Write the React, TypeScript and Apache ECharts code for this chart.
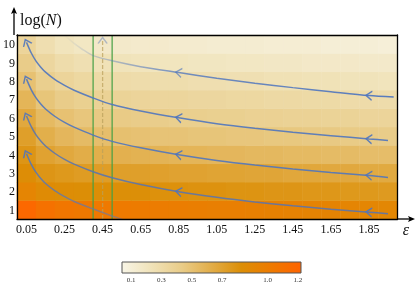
import React, { useEffect, useRef } from "react";
import * as echarts from "echarts";

// ---------- data ----------
const xCategories = ["0.05","0.15","0.25","0.35","0.45","0.55","0.65","0.75","0.85","0.95","1.05","1.15","1.25","1.35","1.45","1.55","1.65","1.75","1.85","1.95"];
const yCategories = ["1","2","3","4","5","6","7","8","9","10"];

const heatRow1 = [1.18,1.10,1.06,1.04,1.03,1.02,1.01,1.00,0.99,0.98,0.97,0.97,0.96,0.95,0.94,0.93,0.93,0.92,0.91,0.90];
const heatRow2 = [0.92,0.86,0.84,0.83,0.83,0.82,0.82,0.81,0.81,0.80,0.80,0.79,0.79,0.78,0.78,0.77,0.77,0.76,0.76,0.75];
const heatRow3 = [0.84,0.78,0.76,0.74,0.73,0.72,0.72,0.71,0.70,0.70,0.69,0.69,0.68,0.68,0.67,0.67,0.66,0.66,0.65,0.65];
const heatRow4 = [0.78,0.70,0.66,0.63,0.62,0.61,0.60,0.59,0.58,0.58,0.57,0.57,0.56,0.56,0.55,0.55,0.54,0.54,0.53,0.53];
const heatRow5 = [0.72,0.62,0.57,0.54,0.52,0.51,0.50,0.49,0.49,0.48,0.48,0.47,0.47,0.46,0.46,0.45,0.45,0.44,0.44,0.43];
const heatRow6 = [0.66,0.55,0.50,0.47,0.45,0.44,0.43,0.42,0.41,0.41,0.40,0.40,0.39,0.39,0.38,0.38,0.37,0.37,0.36,0.36];
const heatRow7 = [0.58,0.48,0.43,0.40,0.38,0.37,0.36,0.35,0.35,0.34,0.34,0.33,0.33,0.32,0.32,0.31,0.31,0.30,0.30,0.29];
const heatRow8 = [0.50,0.41,0.36,0.33,0.31,0.30,0.29,0.28,0.28,0.27,0.27,0.26,0.26,0.25,0.25,0.24,0.24,0.23,0.23,0.22];
const heatRow9 = [0.43,0.34,0.29,0.26,0.24,0.23,0.22,0.21,0.21,0.20,0.20,0.19,0.19,0.18,0.18,0.17,0.17,0.17,0.16,0.16];
const heatRow10 = [0.36,0.27,0.22,0.19,0.17,0.16,0.15,0.15,0.14,0.14,0.13,0.13,0.13,0.12,0.12,0.12,0.11,0.11,0.11,0.10];
const heatRows = [heatRow1,heatRow2,heatRow3,heatRow4,heatRow5,heatRow6,heatRow7,heatRow8,heatRow9,heatRow10];

const colorMin = 0.04;
const colorMax = 1.22;
const colorbarTicks = [0.1, 0.3, 0.5, 0.7, 1.0, 1.2];

// flow lines (epsilon, log N)
const curveX = [0.05,0.075,0.1,0.125,0.15,0.2,0.25,0.3,0.4,0.5,0.65,0.85,1.05,1.25,1.45,1.65,1.85,1.95];
const curveB = [10.1,9.52,9.08,8.75,8.48,8.07,7.76,7.5,7.08,6.72,6.37,6.0,5.68,5.43,5.22,5.03,4.85,4.77];
const curveC = [8.1,7.52,7.08,6.75,6.48,6.07,5.75,5.49,5.06,4.72,4.37,3.99,3.68,3.43,3.22,3.03,2.87,2.76];
const curveD = [6.1,5.52,5.07,4.74,4.47,4.06,3.74,3.48,3.07,2.74,2.37,1.98,1.68,1.43,1.22,1.03,0.87,0.79];
const curveEX = [0.05,0.075,0.1,0.125,0.15,0.2,0.25,0.3,0.4,0.5,0.56];
const curveEY = [4.05,3.47,3.03,2.7,2.43,2.03,1.72,1.45,1.05,0.66,0.45];
const topX = [0.24,0.27,0.3,0.35,0.4,0.5,0.65,0.85,1.05,1.25,1.45,1.65,1.85,1.98];
const topY = [10.55,10.3,10.05,9.68,9.38,9.1,8.78,8.46,8.15,7.88,7.64,7.42,7.21,7.13];

const bandX = [0.40, 0.50];
const dashX = 0.45;
const dashYTop = 10.2;

// ---------- style ----------
const SERIF = "'Liberation Serif', 'DejaVu Serif', serif";
const BLUE = "rgba(80,118,190,0.9)";
const GREEN = "#45a045";
const CMAP = ["#f8f5e6", "#f0e2b8", "#e9cc88", "#e2ad48", "#dc8e06", "#ee7a00", "#ff6400"];
const CHEVRON = "path://M8,0 L0,5 L8,10";
const PXU = 192; // px per epsilon unit
const PYU = 18.4; // px per log N unit

function arrowRotation(xs: number[], ys: number[], i: number) {
  const a = Math.max(i - 1, 0);
  const b = Math.min(i + 1, xs.length - 1);
  const dx = (xs[a] - xs[b]) * PXU;
  const dy = (ys[a] - ys[b]) * PYU;
  return (Math.atan2(dy, dx) * 180) / Math.PI - 180;
}

function curveData(xs: number[], ys: number[], arrowIdx: number[], arrowColor?: (i: number) => string) {
  return xs.map((x, i) => {
    if (arrowIdx.indexOf(i) >= 0) {
      return {
        value: [x, ys[i]],
        symbol: CHEVRON,
        symbolSize: [6, 9],
        symbolRotate: arrowRotation(xs, ys, i),
        itemStyle: { color: "rgba(0,0,0,0)", borderColor: arrowColor ? arrowColor(i) : BLUE, borderWidth: 1.3 },
      };
    }
    return { value: [x, ys[i]], symbol: "none" };
  });
}

function lineSeries(data: any[], color: any, extra: any = {}) {
  return {
    type: "line",
    xAxisIndex: 1,
    yAxisIndex: 1,
    data,
    smooth: 0.3,
    showSymbol: true,
    symbol: "none",
    lineStyle: { color, width: 1.5 },
    itemStyle: { color: "rgba(0,0,0,0)" },
    silent: true,
    z: 5,
    ...extra,
  };
}

function vLine(x: number, y0: number, y1: number, color: string) {
  return {
    type: "line",
    xAxisIndex: 1,
    yAxisIndex: 1,
    data: [[x, y0], [x, y1]],
    symbol: "none",
    showSymbol: false,
    lineStyle: { color, width: 1.2 },
    silent: true,
    z: 4,
  };
}

export default function App() {
  const ref = useRef<HTMLDivElement>(null);
  useEffect(() => {
    if (!ref.current) return;
    const chart = echarts.init(ref.current, null, { renderer: "svg" });

    const heatData: number[][] = [];
    heatRows.forEach((row, yi) => row.forEach((v, xi) => heatData.push([xi, yi, v])));

    const barX = 122, barY = 262, barW = 179, barH = 11;
    const stops = CMAP.map((c, i) => ({ offset: i / (CMAP.length - 1), color: c }));

    const topGradient = new echarts.graphic.LinearGradient(0, 0, 1, 0, [
      { offset: 0, color: "rgba(80,118,190,0)" },
      { offset: 0.12, color: "rgba(80,118,190,0.35)" },
      { offset: 0.38, color: "rgba(80,118,190,0.8)" },
      { offset: 1, color: "rgba(80,118,190,0.95)" },
    ]);
    const eGradient = new echarts.graphic.LinearGradient(0, 0, 1, 0, [
      { offset: 0, color: "rgba(80,118,190,0.9)" },
      { offset: 1, color: "rgba(110,120,160,0.55)" },
    ]);

    const option: any = {
      animation: false,
      grid: { left: 14, right: 17.5, top: 35, bottom: 66 },
      xAxis: [
        {
          type: "category",
          data: xCategories,
          position: "bottom",
          z: 10,
          axisLine: { lineStyle: { color: "#000", width: 1.3 } },
          axisTick: { alignWithLabel: true, interval: 0, length: 3, lineStyle: { color: "#333" } },
          axisLabel: { interval: 1, fontFamily: SERIF, fontSize: 12, color: "#111", margin: 4 },
          splitLine: { show: false },
        },
        {
          type: "value",
          min: 0,
          max: 2.0,
          position: "top",
          z: 10,
          axisLine: { show: true, onZero: false, lineStyle: { color: "#000", width: 1.3 } },
          axisTick: { show: false },
          axisLabel: { show: false },
          splitLine: { show: false },
        },
      ],
      yAxis: [
        {
          type: "category",
          data: yCategories,
          position: "left",
          z: 10,
          axisLine: { lineStyle: { color: "#000", width: 1.3 } },
          axisTick: { show: false },
          axisLabel: { fontFamily: SERIF, fontSize: 12, color: "#111", margin: 2 },
          splitLine: { show: false },
        },
        {
          type: "value",
          min: 0.5,
          max: 10.5,
          position: "right",
          z: 10,
          axisLine: { show: true, onZero: false, lineStyle: { color: "#000", width: 1.3 } },
          axisTick: { show: false },
          axisLabel: { show: false },
          splitLine: { show: false },
        },
      ],
      visualMap: {
        type: "continuous",
        show: false,
        min: colorMin,
        max: colorMax,
        dimension: 2,
        seriesIndex: 0,
        inRange: { color: CMAP },
      },
      series: [
        {
          type: "heatmap",
          xAxisIndex: 0,
          yAxisIndex: 0,
          data: heatData,
          silent: true,
          itemStyle: { borderWidth: 0 },
          emphasis: { disabled: true },
          z: 1,
        },
        vLine(bandX[0], 0.5, 10.5, GREEN),
        vLine(bandX[1], 0.5, 10.5, GREEN),
        {
          type: "line",
          xAxisIndex: 1,
          yAxisIndex: 1,
          data: [
            { value: [dashX, 0.5], symbol: "none" },
            {
              value: [dashX, dashYTop],
              symbol: CHEVRON,
              symbolSize: [6, 9],
              symbolRotate: -90,
              itemStyle: { color: "rgba(0,0,0,0)", borderColor: "rgba(130,150,190,0.6)", borderWidth: 1.3 },
            },
          ],
          showSymbol: true,
          symbol: "none",
          lineStyle: { color: "rgba(185,160,90,0.7)", width: 1.3, type: [4, 2] },
          itemStyle: { color: "rgba(0,0,0,0)" },
          silent: true,
          z: 4,
        },
        lineSeries(curveData(topX, topY, [7, 12], (i) => (i === 7 ? "rgba(80,118,190,0.65)" : BLUE)), topGradient),
        lineSeries(curveData(curveX, curveB, [0, 11, 16]), BLUE),
        lineSeries(curveData(curveX, curveC, [0, 11, 16]), BLUE),
        lineSeries(curveData(curveX, curveD, [0, 11, 16]), "rgba(85,115,180,0.85)"),
        lineSeries(curveData(curveEX, curveEY, [0]), eGradient),
      ],
      graphic: [
        { type: "line", shape: { x1: 14, y1: 35, x2: 14, y2: 12 }, style: { stroke: "#000", lineWidth: 1.3 }, z: 100 },
        { type: "polygon", shape: { points: [[14, 7], [11, 14], [14, 12.5], [17, 14]] }, style: { fill: "#000" }, z: 100 },
        { type: "line", shape: { x1: 397.5, y1: 219, x2: 410, y2: 219 }, style: { stroke: "#000", lineWidth: 1.3 }, z: 100 },
        { type: "polygon", shape: { points: [[415, 219], [408, 216], [409.5, 219], [408, 222]] }, style: { fill: "#000" }, z: 100 },
        {
          type: "text",
          x: 20,
          y: 19,
          z: 100,
          style: {
            text: "log({i|N})",
            font: "16px " + SERIF,
            fill: "#111",
            verticalAlign: "middle",
            rich: { i: { fontStyle: "italic", fontFamily: SERIF, fontSize: 16, fill: "#111" } },
          },
        },
        {
          type: "text",
          x: 406,
          y: 229,
          z: 100,
          style: { text: "ε", font: "italic 16px " + SERIF, fill: "#111", align: "center", verticalAlign: "middle" },
        },
        {
          type: "rect",
          shape: { x: barX, y: barY, width: barW, height: barH },
          style: { fill: new echarts.graphic.LinearGradient(0, 0, 1, 0, stops), stroke: "#555", lineWidth: 1 },
          z: 100,
        },
        ...colorbarTicks.map((v) => ({
          type: "text",
          x: barX + ((v - colorMin) / (colorMax - colorMin)) * barW,
          y: 280,
          z: 100,
          style: { text: v.toFixed(1), font: "7px " + SERIF, fill: "#333", align: "center", verticalAlign: "middle" },
        })),
      ],
    };
    chart.setOption(option);
    return () => chart.dispose();
  }, []);
  return <div ref={ref} style={{ position: "fixed", left: 0, top: 0, width: 415, height: 285 }} />;
}
